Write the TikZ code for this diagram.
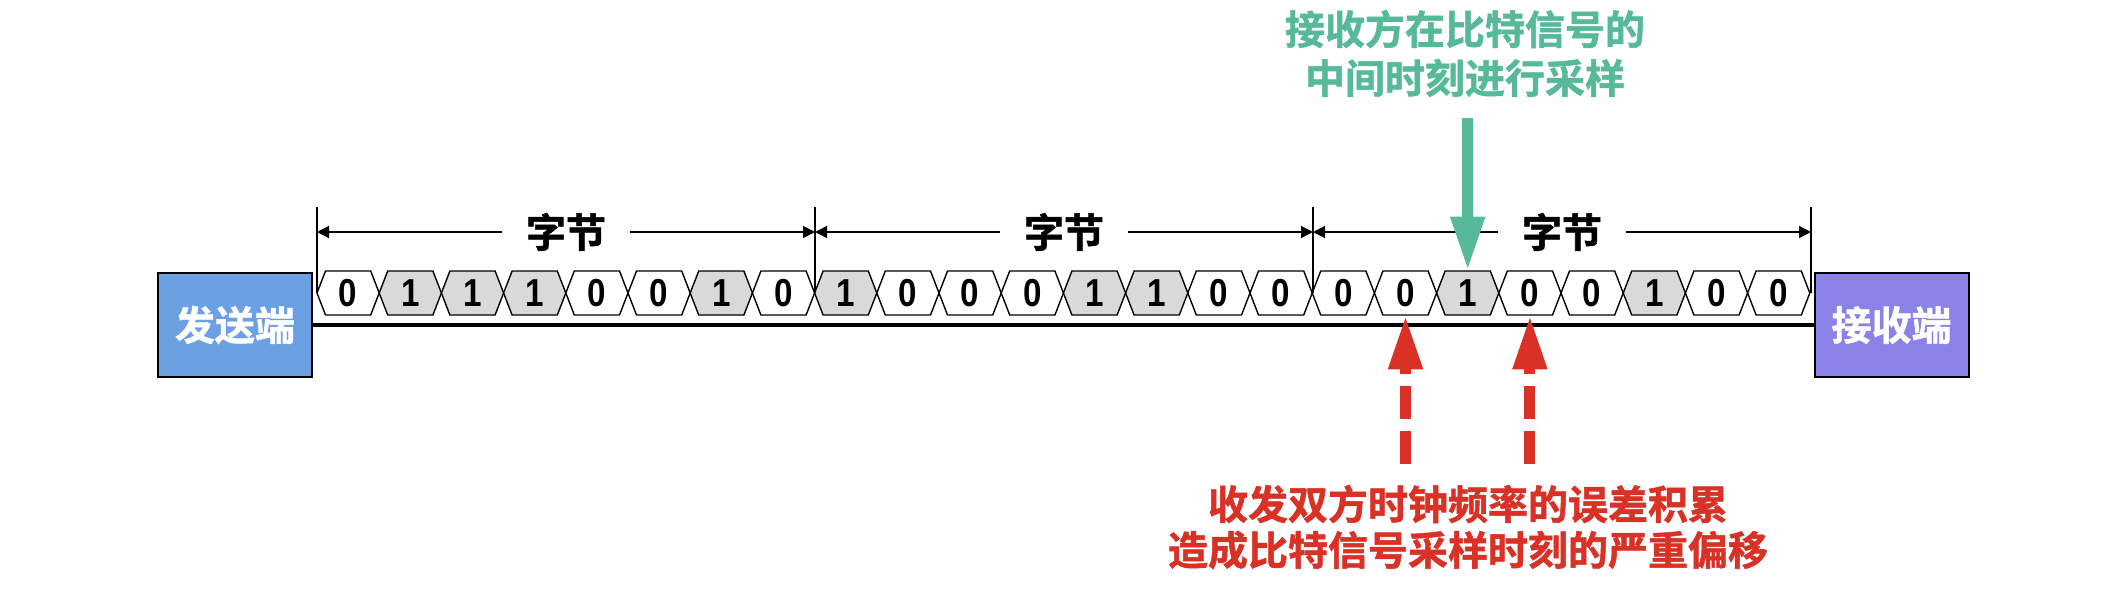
\documentclass[tikz,border=0pt]{standalone}
\usepackage{fontspec}
\setmainfont{Liberation Sans}
\newfontfamily\cjk{Noto Sans CJK SC}[BoldFont={Noto Sans CJK SC Bold}, BoldFeatures={FakeBold=1.3}]
\newfontfamily\bitfont{Liberation Sans}[FakeStretch=0.85]
\usetikzlibrary{arrows.meta}
\definecolor{sendblue}{HTML}{6CA0E4}
\definecolor{recvpurple}{HTML}{8B82E8}
\definecolor{tgreen}{HTML}{55B99A}
\definecolor{tred}{HTML}{D93125}
\definecolor{bitgray}{HTML}{D9D9D9}
\tikzset{
  endbox/.style={draw=black, line width=1pt, minimum width=77pt, minimum height=52pt, inner sep=0pt, text=white, font=\cjk\bfseries\fontsize{20pt}{24pt}\selectfont},
  bitnode/.style={minimum width=31.1pt, minimum height=22pt, inner sep=0pt, font=\bitfont\bfseries\fontsize{19.5pt}{22pt}\selectfont},
  hex/.style={draw=black, line width=0.7pt, line join=miter},
  dimline/.style={line width=0.6pt},
  dimlabel/.style={fill=white, inner xsep=12pt, inner ysep=2pt, font=\cjk\bfseries\fontsize{20pt}{24pt}\selectfont},
  greenarrow/.style={draw=tgreen, line width=5.5pt, -{Triangle[length=27pt,width=16pt]}},
  redarrow/.style={draw=tred, line width=5.5pt, dash pattern=on 16.5pt off 6pt, -{Triangle[length=27pt,width=16pt]}},
  note/.style={font=\cjk\bfseries\fontsize{20pt}{24pt}\selectfont, inner sep=0pt}
}
\begin{document}
\begin{tikzpicture}[x=0.5pt,y=-0.5pt]
\useasboundingbox (0,0) rectangle (2124,590);
% end boxes
\node[endbox, fill=sendblue] (snd) at (235,325) {发送端};
\node[endbox, fill=recvpurple] (rcv) at (1891.5,325) {接收端};
\draw[line width=2pt] (snd.east) -- (rcv.west);
% bits
\foreach \b [count=\i from 0] in {0,1,1,1,0,0,1,0,1,0,0,0,1,1,0,0,0,0,1,0,0,1,0,0} {
  \pgfmathsetmacro\L{317+\i*62.2}
  \pgfmathsetmacro\R{\L+62.2}
  \ifnum\b=1 \def\hf{bitgray}\else\def\hf{white}\fi
  \draw[hex, fill=\hf] (\L,293) -- ({\L+8.5},271) -- ({\R-8.5},271) -- (\R,293) -- ({\R-8.5},315) -- ({\L+8.5},315) -- cycle;
  \node[bitnode] (b\i) at ({\L+31.1},293) {\b};
}
% dimension lines
\foreach \k/\x in {0/317,1/815,2/1313,3/1811} {
  \coordinate (dt\k) at (\x,207);
  \coordinate (dm\k) at (\x,232);
  \coordinate (db\k) at (\x,293);
  \draw[dimline] (dt\k) -- (db\k);
}
\foreach \k/\n in {0/1,1/2,2/3} {
  \draw[dimline, {Triangle[length=6pt,width=6pt]}-{Triangle[length=6pt,width=6pt]}] (dm\k) -- node[dimlabel] (byte\k) {字节} (dm\n);
}
% green annotation
\node[note, text=tgreen] (gt1) at (1465,29) {接收方在比特信号的};
\node[note, text=tgreen] (gt2) at (1465,78) {中间时刻进行采样};
\coordinate (ga) at (b18.north |- 0,118);
\draw[greenarrow] (ga) -- (b18.north);
% red annotation
\coordinate (ra1) at (b17.south |- 0,464);
\coordinate (ra2) at (b19.south |- 0,464);
\draw[redarrow] (ra1) -- (b17.south);
\draw[redarrow] (ra2) -- (b19.south);
\node[note, text=tred] (rt1) at (1468,504) {收发双方时钟频率的误差积累};
\node[note, text=tred] (rt2) at (1468,550) {造成比特信号采样时刻的严重偏移};
\end{tikzpicture}
\end{document}
